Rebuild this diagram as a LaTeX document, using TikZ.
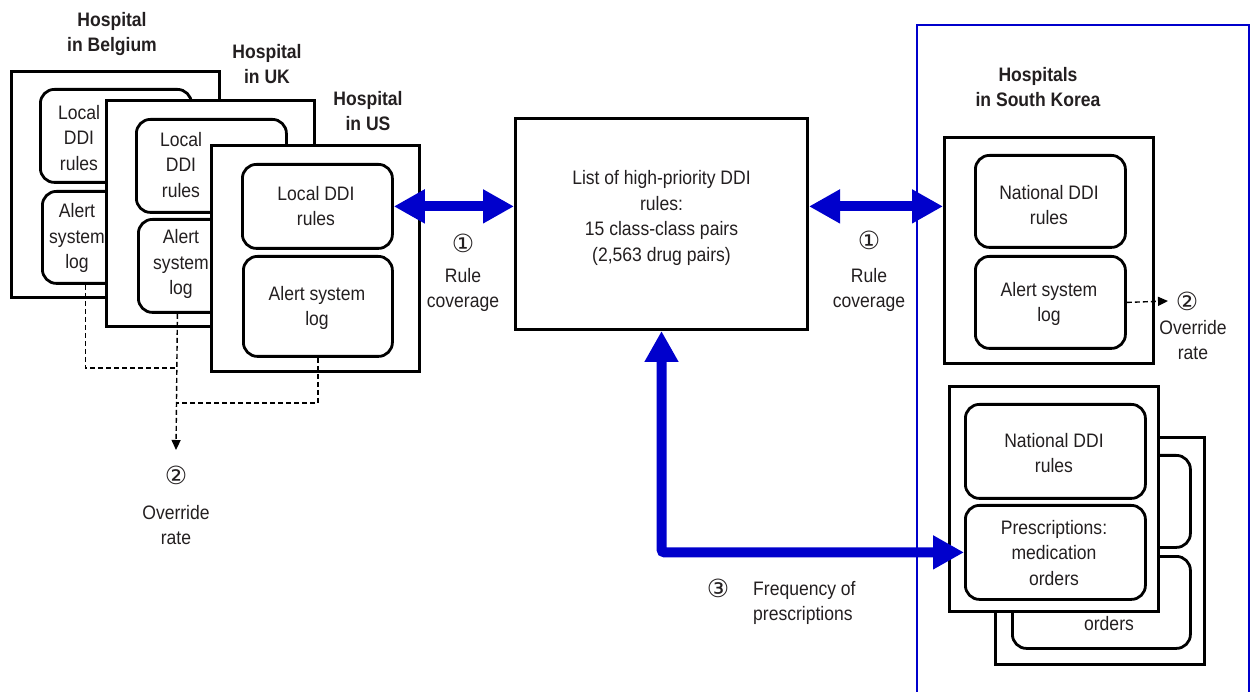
\documentclass[tikz,border=0pt]{standalone}
\usepackage{fontspec}
\setmainfont{Liberation Sans}[FakeStretch=0.9]
\newfontfamily\symfont{DejaVu Sans}
\usetikzlibrary{arrows.meta,calc}
\definecolor{dblue}{RGB}{0,0,204}
\definecolor{tgray}{RGB}{35,31,32}
\tikzset{
  obox/.style={draw, line width=3pt, fill=white, inner sep=0pt, anchor=north west},
  rbox/.style={draw, line width=2.8pt, rounded corners=14pt, fill=white, inner sep=0pt, anchor=north west},
  txt/.style={align=center, text=tgray, inner sep=0pt, font=\fontsize{19.5}{25.5}\selectfont},
  lbl/.style={align=center, text=tgray, inner sep=0pt, font=\bfseries\fontsize{19.5}{25.5}\selectfont},
  num/.style={text=tgray, inner sep=0pt, font=\symfont\fontsize{25}{25}\selectfont},
  bigarr/.style={draw=dblue, line width=10pt, {Triangle[length=31pt,width=32pt]}-{Triangle[length=31pt,width=32pt]}},
  dashl/.style={draw=black, line width=1.4pt, dash pattern=on 5pt off 3pt},
  dasharr/.style={dashl, -{Triangle[length=10pt,width=9pt]}},
}
\begin{document}
\begin{tikzpicture}[x=1pt,y=-1pt]
\useasboundingbox (0,0) rectangle (1251,692);
% Belgium
\node[obox, minimum width=208pt, minimum height=226pt] (be) at (10,70) {};
\node[rbox, minimum width=151pt, minimum height=93pt] (berule) at (39,88) {};
\node[rbox, minimum width=150pt, minimum height=92pt] (bealert) at (41,190) {};
\node[txt] (berulet) at (79,138) {Local\\DDI\\rules};
\node[txt] (bealertt) at (77,238) {Alert\\system\\log};
\node[lbl] (bel) at (112,34) {Hospital\\in Belgium};
% UK
\node[obox, minimum width=208pt, minimum height=226pt] (uk) at (105,99) {};
\node[rbox, minimum width=150pt, minimum height=93pt] (ukrule) at (135,118) {};
\node[rbox, minimum width=150pt, minimum height=93pt] (ukalert) at (137,218) {};
\node[txt] (ukrulet) at (181,165) {Local\\DDI\\rules};
\node[txt] (ukalertt) at (181,264) {Alert\\system\\log};
\node[lbl] (ukl) at (267,64) {Hospital\\in UK};
% US
\node[obox, minimum width=208pt, minimum height=226pt] (us) at (210,144) {};
\node[rbox, minimum width=150pt, minimum height=84pt] (usrule) at (241,163) {};
\node[rbox, minimum width=149pt, minimum height=100pt] (usalert) at (242,255) {};
\node[txt] (usrulet) at (316,206) {Local DDI\\rules};
\node[txt] (usalertt) at (317,308) {Alert system\\log};
\node[lbl] (usl) at (368,111) {Hospital\\in US};
% dashed lines to override rate
\coordinate (j1) at (176,368);
\coordinate (j2) at (176,403);
\coordinate (ovt) at (176,450);
\draw[dashl] ([xshift=-32pt]bealert.south) |- (j1);
\draw[dashl] (usalert.south) |- (j2);
\draw[dasharr] ([xshift=-36pt]ukalert.south) -- (ovt);
\node[num] (n2a) at (176,475) {②};
\node[txt] (ova) at (176,525) {Override\\rate};
% middle
\node[obox, minimum width=292pt, minimum height=211pt] (mid) at (514,117) {};
\node[txt] (midt) at ([yshift=6pt]mid.center) {List of high-priority DDI\\rules:\\15 class-class pairs\\(2,563 drug pairs)};
\node[num] (n1a) at (463,243) {①};
\node[txt] (rca) at (463,290) {Rule\\coverage};
\node[num] (n1b) at (869,240) {①};
\node[txt] (rcb) at (869,290) {Rule\\coverage};
% South Korea frame
\draw[dblue, line width=2.2pt] (917,25) rectangle (1249,700);
\node[lbl] (skl) at (1038,87) {Hospitals\\in South Korea};
\node[obox, minimum width=209pt, minimum height=226pt] (sk1) at (943,136) {};
\node[rbox, minimum width=150pt, minimum height=92pt] (sknat) at (974,154) {};
\node[rbox, minimum width=150pt, minimum height=92pt] (skalert) at (974,255) {};
\node[txt] (sknatt) at (1049,205) {National DDI\\rules};
\node[txt] (skalertt) at (1049,304) {Alert system\\log};
\coordinate (ov2) at (1168,301);
\draw[dasharr] (skalert.east) -- (ov2);
\node[num] (n2b) at (1187,301) {②};
\node[txt] (ovb) at (1193,340) {Override\\rate};
% back stack
\node[obox, minimum width=209pt, minimum height=227pt] (back) at (994,436) {};
\node[rbox, minimum width=179pt, minimum height=92pt] (backin1) at (1010,454) {};
\node[rbox, minimum width=178pt, minimum height=92pt] (backin2) at (1011,555) {};
\node[txt] (backt) at (1109,624) {orders};
% front stack
\node[obox, minimum width=209pt, minimum height=225pt] (sk2) at (948,385) {};
\node[rbox, minimum width=180pt, minimum height=94pt] (sk2nat) at (964,403) {};
\node[rbox, minimum width=180pt, minimum height=94pt] (presc) at (964,504) {};
\node[txt] (sk2natt) at (1054,453) {National DDI\\rules};
\node[txt] (presct) at (1054,553) {Prescriptions:\\medication\\orders};
% big arrows
\draw[bigarr] (usrule.east) -- (usrule.east -| mid.west);
\draw[bigarr] ($(mid.east |- sknat.east)+(0,5)$) -- ($(sknat.east -| sk1.west)+(0,5)$);
\draw[bigarr, rounded corners=3pt] (mid.south) |- (presc.west);
\node[num] (n3) at (718,588) {③};
\node[txt, align=left, anchor=west] (freq) at (753,603) {Frequency of\\prescriptions};
\end{tikzpicture}
\end{document}
